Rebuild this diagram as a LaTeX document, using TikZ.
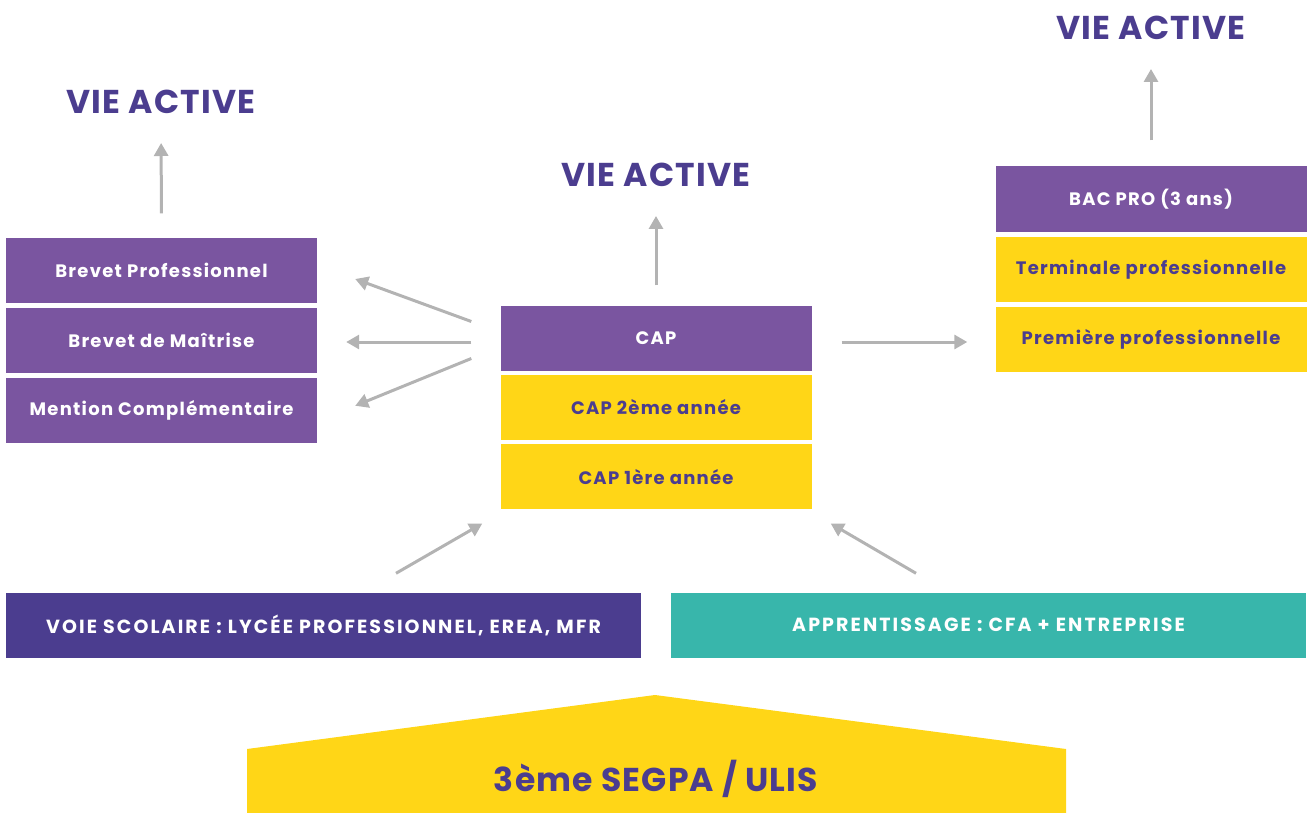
\documentclass[tikz,border=0pt]{standalone}
\usepackage{fontspec}
\setmainfont{Poppins}
\usetikzlibrary{positioning,arrows.meta}

\definecolor{vpurple}{HTML}{7A55A0}
\definecolor{vdark}{HTML}{4B3D8F}
\definecolor{vyellow}{HTML}{FFD617}
\definecolor{vteal}{HTML}{38B6AB}
\definecolor{vgrey}{HTML}{B3B3B3}

\begin{document}
\begin{tikzpicture}[x=1pt, y=-1pt, inner sep=0pt,
		box/.style={minimum width=311pt, minimum height=65pt, font=\fontsize{18}{21}\selectfont\bfseries\addfontfeature{LetterSpace=7}},
		purplebox/.style={box, fill=vpurple, text=white},
		yellowbox/.style={box, fill=vyellow, text=vdark},
		bar/.style={minimum width=635pt, minimum height=65pt, text=white, font=\fontsize{19}{22}\selectfont\bfseries\addfontfeature{LetterSpace=11}},
		vie/.style={text=vdark, font=\fontsize{33}{38}\selectfont\bfseries\addfontfeature{LetterSpace=3.6}},
		arr/.style={draw=vgrey, line width=3pt, -{Triangle[length=13pt, width=14pt]}}]
	\useasboundingbox (0,0) rectangle (1308,813);

	% left column
	\node[purplebox] (bp) at (161.5,270) {Brevet Professionnel};
	\node[purplebox, below=5pt of bp] (bm) {Brevet de Maîtrise};
	\node[purplebox, below=5pt of bm] (mc) {Mention Complémentaire};
	\node[vie] (vieL) at (161,102) {VIE ACTIVE};

	% centre column
	\node[purplebox] (cap) at (656,338) {CAP};
	\node[yellowbox, below=4pt of cap] (cap2) {CAP 2ème année};
	\node[yellowbox, below=4pt of cap2] (cap1) {CAP 1ère année};
	\node[vie] (vieC) at (656,175) {VIE ACTIVE};

	% right column
	\node[purplebox] (bac) at (1151,199) {BAC PRO (3 ans)};
	\node[yellowbox, below=5pt of bac] (term) {Terminale professionnelle};
	\node[yellowbox, below=5pt of term] (prem) {Première professionnelle};
	\node[vie] (vieR) at (1151,28) {VIE ACTIVE};

	% the two ways
	\node[bar, fill=vdark] (voie) at (323.5,625) {VOIE SCOLAIRE : LYCÉE PROFESSIONNEL, EREA, MFR};
	\node[bar, fill=vteal] (appr) at (988.5,625) {APPRENTISSAGE : CFA + ENTREPRISE};

	% base
	\fill[vyellow] (247,813) -- (247,749) -- (655,695) -- (1066,749) -- (1066,813) -- cycle;
	\node[vie] (segpa) at (656,779) {3ème SEGPA / ULIS};

	% arrows
	\draw[arr, shorten <=24pt, shorten >=29pt] (bp.north) -- (vieL.south);
	\draw[arr, shorten <=20pt, shorten >=29pt] (cap.north) -- (vieC.south);
	\draw[arr, shorten <=26pt, shorten >=29pt] (bac.north) -- (vieR.south);
	\draw[arr] ([xshift=-29pt, yshift=16.5pt]cap.west) -- ([xshift=38pt, yshift=-9pt]bp.east);
	\draw[arr] ([xshift=-29pt, yshift=-4pt]cap.west) coordinate (tl) -- ([xshift=29pt]bm.east |- tl);
	\draw[arr] ([xshift=-29pt, yshift=-20.5pt]cap.west) -- ([xshift=38pt, yshift=5pt]mc.east);
	\draw[arr] ([xshift=30pt, yshift=-4pt]cap.east) coordinate (tr) -- ([xshift=-28pt]prem.west |- tr);
	\draw[arr] ([xshift=72.5pt, yshift=19pt]voie.north) -- ([xshift=-18pt, yshift=-14pt]cap1.south west);
	\draw[arr] ([xshift=-72.5pt, yshift=19pt]appr.north) -- ([xshift=19pt, yshift=-14pt]cap1.south east);
\end{tikzpicture}
\end{document}
